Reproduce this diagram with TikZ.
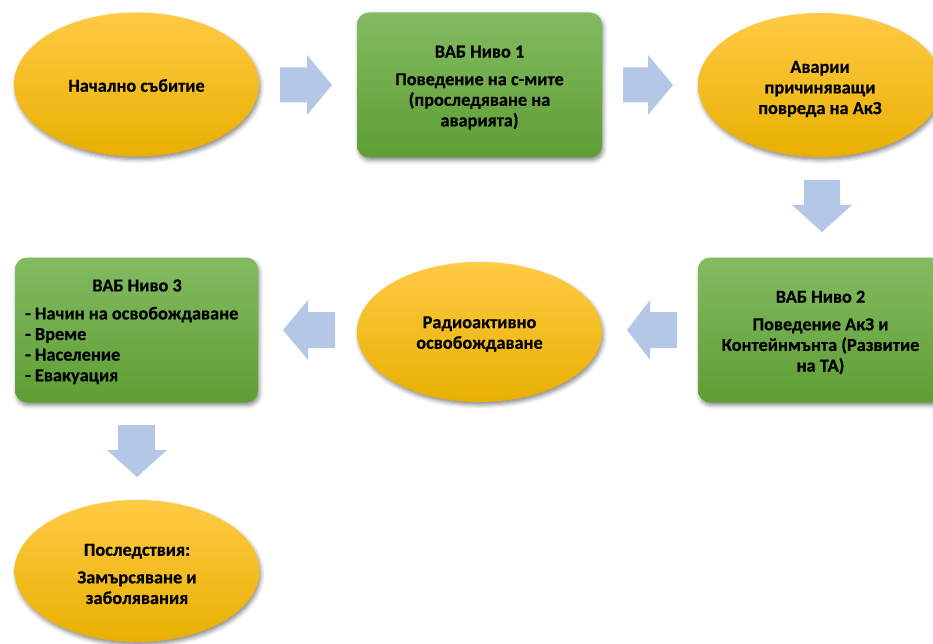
\documentclass[tikz,border=0pt]{standalone}
\usepackage{fontspec}
\setmainfont{Carlito}[BoldFeatures={FakeBold=0.4}]
\usetikzlibrary{shapes.geometric,shadows.blur}
\definecolor{yTop}{HTML}{FFCA45}
\definecolor{yMid}{HTML}{FFC000}
\definecolor{yBot}{HTML}{E8B000}
\definecolor{gTop}{HTML}{83BB62}
\definecolor{gMid}{HTML}{6EAE44}
\definecolor{gBot}{HTML}{5E9E33}
\definecolor{arrowBlue}{HTML}{B4C7E7}
\tikzset{
  shad/.style={blur shadow={shadow xshift=1.5pt, shadow yshift=-3pt, shadow blur radius=4pt, shadow opacity=45}},
  txt/.style={font=\bfseries\fontsize{18.3}{20.6}\selectfont, align=center, text=black},
  ell/.style={ellipse, shad, inner sep=0pt, minimum width=245pt, minimum height=140pt,
    top color=yTop, middle color=yMid, bottom color=yBot},
  gbox/.style={rectangle, shad, rounded corners=12pt, inner sep=0pt, minimum width=245pt, minimum height=145pt,
    top color=gTop, middle color=gMid, bottom color=gBot},
  barrow/.style={fill=arrowBlue, draw=none}
}
\begin{document}
\begin{tikzpicture}[x=1pt,y=-1pt]
\useasboundingbox (0,0) rectangle (933,644);
% shapes
\node[ell, minimum height=144pt] (e1) at (136.5,84.5) {};
\node[gbox] (b1) at (479.5,85) {};
\node[ell, minimum width=244pt, minimum height=144pt] (e2) at (820,85) {};
\node[gbox] (b2) at (820.5,330) {};
\node[ell] (e3) at (479.5,332) {};
\node[gbox, minimum width=243pt] (b3) at (136.5,330) {};
\node[ell, minimum height=142pt] (e4) at (137,571) {};
% texts
\node[txt] (e1t) at ([yshift=-1pt]e1.center) {Начално събитие};
\node[txt] (b1t) at ([yshift=-2.5pt]b1.center) {ВАБ Ниво 1\\[7pt]Поведение на с-мите\\(проследяване на\\аварията)};
\node[txt] (e2t) at ([yshift=-4pt]e2.center) {Аварии\\причиняващи\\повреда на АкЗ};
\node[txt] (b2t) at ([yshift=-2.5pt]b2.center) {ВАБ Ниво 2\\[7pt]Поведение АкЗ и\\Контейнмънта (Развитие\\на ТА)};
\node[txt] (e3t) at ([yshift=-2pt]e3.center) {Радиоактивно\\освобождаване};
\node[txt] (b3t) at (137,285.5) {ВАБ Ниво 3};
\node[txt, align=left, anchor=west, inner sep=0pt] (b3l) at (25,345.5) {- Начин на освобождаване\\- Време\\- Население\\- Евакуация};
\node[txt] (e4t) at ([yshift=-3pt]e4.center) {Последствия:\\[7pt]Замърсяване и\\заболявания};
% block arrows
\fill[barrow] (280,67.5) -- (307,67.5) -- (307,55) -- (332,85) -- (307,115) -- (307,102.5) -- (280,102.5) -- cycle;
\fill[barrow] (623,67.5) -- (648,67.5) -- (648,55) -- (673,85) -- (648,115) -- (648,102.5) -- (623,102.5) -- cycle;
\fill[barrow] (804,180) -- (840,180) -- (840,205) -- (852,205) -- (822,232) -- (792,205) -- (804,205) -- cycle;
\fill[barrow] (677,312) -- (650,312) -- (650,300) -- (627,330) -- (650,360) -- (650,348) -- (677,348) -- cycle;
\fill[barrow] (335,312) -- (308,312) -- (308,300) -- (283,330) -- (308,360) -- (308,348) -- (335,348) -- cycle;
\fill[barrow] (118,425) -- (155,425) -- (155,450) -- (167,450) -- (137,477) -- (107,450) -- (118,450) -- cycle;
\end{tikzpicture}
\end{document}
